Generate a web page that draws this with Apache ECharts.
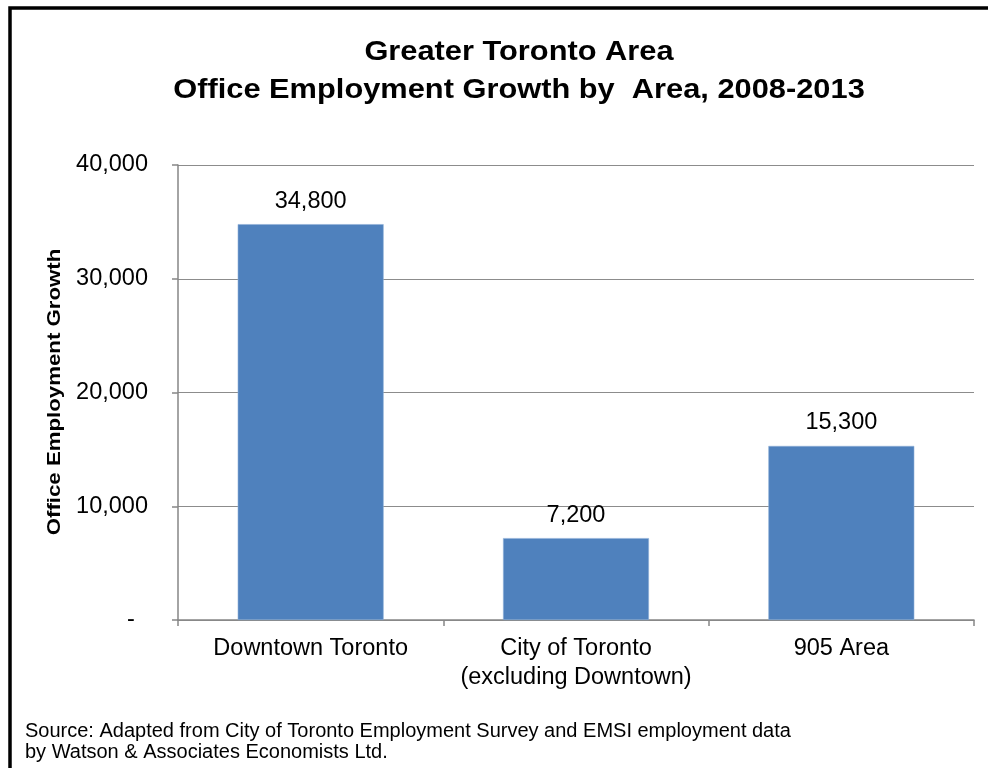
<!DOCTYPE html>
<html>
<head>
<meta charset="utf-8">
<script src="https://cdn.jsdelivr.net/npm/echarts@6/dist/echarts.min.js"></script>
<style>
  html, body { margin: 0; padding: 0; background: #fff; }
  #chart { width: 988px; height: 768px; }
</style>
</head>
<body>
<div id="chart"></div>
<script>
// Office employment growth by area, Greater Toronto Area 2008-2013
const categories = ['Downtown Toronto', 'City of Toronto\n(excluding Downtown)', '905 Area'];
const growth = [34800, 7200, 15300];
const yTicks = [0, 10000, 20000, 30000, 40000];

const titleLines = ['Greater Toronto Area', 'Office Employment Growth by  Area, 2008-2013'];
const yAxisTitle = 'Office Employment Growth';
const sourceLines = [
  'Source: Adapted from City of Toronto Employment Survey and EMSI employment data',
  'by Watson & Associates Economists Ltd.'
];

const FONT = '"Liberation Sans", Arial, Helvetica, sans-serif';
const fmt = v => v === 0 ? '-  ' : v.toLocaleString('en-US');

const chart = echarts.init(document.getElementById('chart'), null, { renderer: 'canvas' });

chart.setOption({
  backgroundColor: '#ffffff',
  animation: false,
  grid: { left: 178, right: 14, top: 165, bottom: 148 },
  xAxis: {
    type: 'category',
    data: categories,
    axisLine: { show: true, lineStyle: { color: '#868686', width: 1.5 } },
    axisTick: { show: true, interval: 0, length: 6, lineStyle: { color: '#868686', width: 1.5 } },
    axisLabel: {
      interval: 0,
      color: '#000', fontFamily: FONT, fontSize: 23.5, margin: 14, lineHeight: 29
    }
  },
  yAxis: {
    type: 'value',
    min: yTicks[0],
    max: yTicks[yTicks.length - 1],
    interval: yTicks[1] - yTicks[0],
    axisLine: { show: true, lineStyle: { color: '#868686', width: 1.5 } },
    axisTick: { show: true, length: 6, lineStyle: { color: '#868686', width: 1.5 } },
    splitLine: { show: true, lineStyle: { color: '#8c8c8c', width: 1.2 } },
    axisLabel: {
      color: '#000', fontFamily: FONT, fontSize: 23.5, margin: 30,
      formatter: fmt
    }
  },
  series: [{
    type: 'bar',
    data: growth,
    barCategoryGap: '45%',
    itemStyle: { color: '#4F81BD', borderColor: '#8fb0d8', borderWidth: 0.6 },
    label: {
      show: true,
      position: 'top',
      distance: 11,
      color: '#000',
      fontFamily: FONT,
      fontSize: 23.5,
      formatter: p => fmt(p.value)
    }
  }],
  graphic: [
    {
      type: 'rect',
      shape: { x: 10, y: 8, width: 1100, height: 900 },
      style: { fill: 'none', stroke: '#000', lineWidth: 3.5 },
      silent: true
    },
    {
      type: 'text',
      x: 519, y: 52, scaleX: 1.1,
      style: {
        text: titleLines[0], textAlign: 'center', textVerticalAlign: 'middle',
        fill: '#000', font: 'bold 28px ' + FONT
      }
    },
    {
      type: 'text',
      x: 519, y: 90, scaleX: 1.1,
      style: {
        text: titleLines[1], textAlign: 'center', textVerticalAlign: 'middle',
        fill: '#000', font: 'bold 28px ' + FONT
      }
    },
    {
      type: 'text',
      x: 55, y: 392, rotation: Math.PI / 2, scaleX: 1.17,
      style: {
        text: yAxisTitle, textAlign: 'center', textVerticalAlign: 'middle',
        fill: '#000', font: 'bold 19px ' + FONT
      }
    },
    {
      type: 'text',
      x: 25, y: 731,
      style: {
        text: sourceLines[0], textAlign: 'left', textVerticalAlign: 'middle',
        fill: '#000', font: '20px ' + FONT
      }
    },
    {
      type: 'text',
      x: 25, y: 752,
      style: {
        text: sourceLines[1], textAlign: 'left', textVerticalAlign: 'middle',
        fill: '#000', font: '20px ' + FONT
      }
    }
  ]
});
</script>
</body>
</html>
